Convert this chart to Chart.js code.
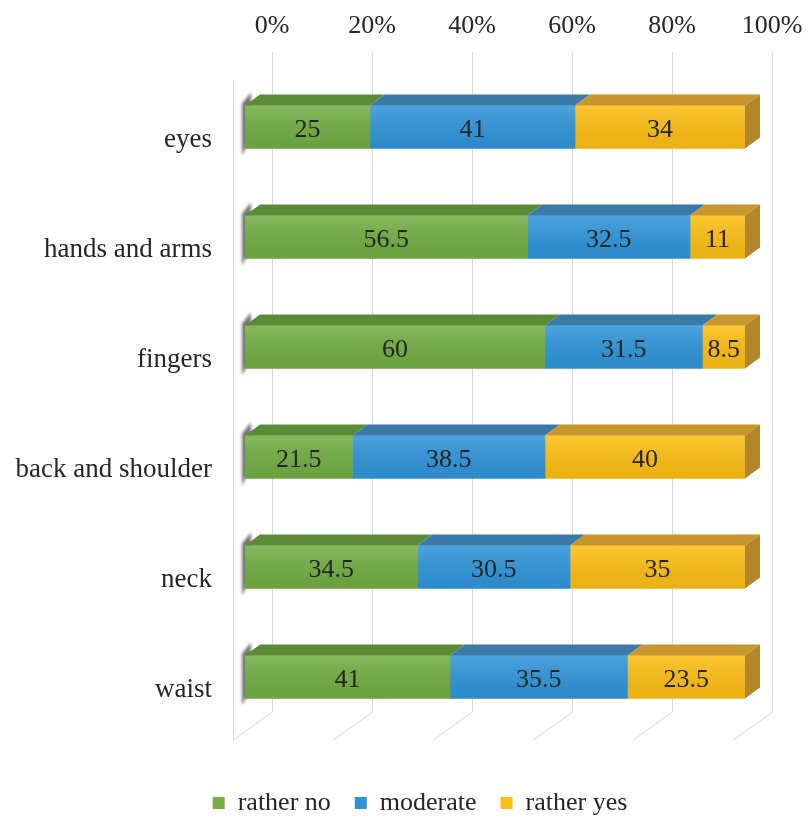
<!DOCTYPE html>
<html lang="en">
<head>
    <meta charset="UTF-8">
    <title>Discomfort by body region</title>
    <script src="https://cdn.jsdelivr.net/npm/chart.js"></script>
    <style>
        html, body {
            margin: 0;
            padding: 0;
            background: #ffffff;
        }

        .chart-box {
            position: relative;
            width: 808px;
            height: 819px;
        }
    </style>
</head>
<body>
    <div class="chart-box">
        <canvas id="regionChart"></canvas>
    </div>

    <script>
        const regions = ['eyes', 'hands and arms', 'fingers', 'back and shoulder', 'neck', 'waist'];
        const ratherNo = [25, 56.5, 60, 21.5, 34.5, 41];
        const moderate = [41, 32.5, 31.5, 38.5, 30.5, 35.5];
        const ratherYes = [34, 11, 8.5, 40, 35, 23.5];
        const percentTicks = [0, 20, 40, 60, 80, 100];

        const FONT = "'Liberation Serif', 'Times New Roman', serif";
        const TEXT = '#262626';

        // fake 3D: bar depth and wall/floor offsets (px)
        const BAR_DX = 15, BAR_DY = 11;
        const BACK_DX = 27, BACK_DY = 20;
        const FRONT_DX = 12, FRONT_DY = 8;

        function poly(ctx, pts, fill) {
            ctx.beginPath();
            ctx.moveTo(pts[0][0], pts[0][1]);
            for (let i = 1; i < pts.length; i++) ctx.lineTo(pts[i][0], pts[i][1]);
            ctx.closePath();
            ctx.fillStyle = fill;
            ctx.fill();
        }

        const box3d = {
            id: 'box3d',
            beforeDatasetsDraw(chart) {
                const { ctx, chartArea: area, scales: { x } } = chart;
                ctx.save();
                ctx.strokeStyle = '#d9d9d9';
                ctx.lineWidth = 1;
                // back wall gridlines + floor diagonals
                percentTicks.forEach(v => {
                    const px = Math.round(x.getPixelForValue(v) + BACK_DX) + 0.5;
                    ctx.beginPath();
                    ctx.moveTo(px, area.top - BACK_DY);
                    ctx.lineTo(px, area.bottom - BACK_DY);
                    ctx.lineTo(px - BACK_DX - FRONT_DX, area.bottom + FRONT_DY);
                    ctx.stroke();
                });
                // left wall edge
                const wx = Math.round(area.left - FRONT_DX) + 0.5;
                ctx.beginPath();
                ctx.moveTo(wx, area.top + FRONT_DY);
                ctx.lineTo(wx, area.bottom + FRONT_DY);
                ctx.stroke();

                // shadow of bar ends on the left wall
                chart.getDatasetMeta(0).data.forEach(bar => {
                    const p = bar.getProps(['y', 'base', 'height'], true);
                    const t = p.y - p.height / 2, b = p.y + p.height / 2;
                    ctx.save();
                    ctx.filter = 'blur(1.5px)';
                    poly(ctx, [
                        [p.base - 3, t - 2], [p.base + 6, t - BAR_DY - 2],
                        [p.base + 6, b - BAR_DY], [p.base - 3, b + 7]
                    ], 'rgba(70, 70, 70, 0.75)');
                    ctx.restore();
                });
                ctx.restore();
            },
            afterDatasetsDraw(chart) {
                const { ctx } = chart;
                const last = chart.data.datasets.length - 1;
                ctx.save();
                chart.data.datasets.forEach((ds, i) => {
                    chart.getDatasetMeta(i).data.forEach((bar, j) => {
                        const p = bar.getProps(['x', 'y', 'base', 'height'], true);
                        const l = p.base, r = p.x;
                        const t = p.y - p.height / 2, b = p.y + p.height / 2;

                        // soft shading on the front face
                        const g = ctx.createLinearGradient(0, t, 0, b);
                        g.addColorStop(0, 'rgba(255, 255, 255, 0.14)');
                        g.addColorStop(1, 'rgba(0, 0, 0, 0.07)');
                        ctx.fillStyle = g;
                        ctx.fillRect(l, t, r - l, b - t);

                        poly(ctx, [[l, t], [r, t], [r + BAR_DX, t - BAR_DY], [l + BAR_DX, t - BAR_DY]], ds.topColor);
                        if (i === last) {
                            poly(ctx, [[r, t], [r + BAR_DX, t - BAR_DY], [r + BAR_DX, b - BAR_DY], [r, b]], ds.sideColor);
                        }

                        ctx.fillStyle = TEXT;
                        ctx.font = '26px ' + FONT;
                        ctx.textAlign = 'center';
                        ctx.textBaseline = 'middle';
                        ctx.fillText(String(ds.data[j]), (l + r) / 2, p.y + 3);
                    });
                });
                ctx.restore();
            }
        };

        Chart.defaults.font.family = FONT;
        Chart.defaults.color = TEXT;

        const ctx = document.getElementById('regionChart').getContext('2d');
        const regionChart = new Chart(ctx, {
            type: 'bar',
            data: {
                labels: regions,
                datasets: [
                    {
                        label: 'rather no',
                        data: ratherNo,
                        backgroundColor: '#72ae43',
                        topColor: '#5b8b37',
                        sideColor: '#4f7a30'
                    },
                    {
                        label: 'moderate',
                        data: moderate,
                        backgroundColor: '#2f95da',
                        topColor: '#3b79a6',
                        sideColor: '#336b94'
                    },
                    {
                        label: 'rather yes',
                        data: ratherYes,
                        backgroundColor: '#fdbf12',
                        topColor: '#c7962d',
                        sideColor: '#b3862a'
                    }
                ]
            },
            options: {
                indexAxis: 'y',
                responsive: true,
                maintainAspectRatio: false,
                animation: false,
                datasets: {
                    bar: {
                        xAxisID: 'x',
                        barThickness: 43,
                        borderWidth: 0
                    }
                },
                // negative right padding only to push the legend centre right
                layout: {
                    padding: { left: 0, right: -32, top: 0, bottom: -7 }
                },
                plugins: {
                    legend: {
                        position: 'bottom',
                        labels: {
                            boxWidth: 12,
                            boxHeight: 12,
                            padding: 24,
                            color: TEXT,
                            font: { size: 26 }
                        }
                    },
                    tooltip: { enabled: false }
                },
                scales: {
                    x: {
                        position: 'top',
                        stacked: true,
                        min: 0,
                        max: 100,
                        grid: { display: false },
                        border: { display: false },
                        ticks: {
                            stepSize: 20,
                            padding: 22,
                            labelOffset: BACK_DX,
                            color: TEXT,
                            font: { size: 26 },
                            callback: v => v + '%'
                        },
                        afterFit: s => { s.height = 72; }
                    },
                    y: {
                        stacked: true,
                        grid: { display: false },
                        border: { display: false },
                        ticks: {
                            padding: 25,
                            labelOffset: 13,
                            color: TEXT,
                            font: { size: 27 }
                        },
                        afterFit: s => { s.width = 245; }
                    },
                    // empty axes used only as spacers around the plot
                    bottomGap: {
                        type: 'linear',
                        position: 'bottom',
                        grid: { display: false },
                        border: { display: false },
                        ticks: { display: false },
                        afterFit: s => { s.height = 34; }
                    },
                    rightGap: {
                        type: 'linear',
                        position: 'right',
                        grid: { display: false },
                        border: { display: false },
                        ticks: { display: false },
                        afterFit: s => { s.width = 95; }
                    }
                }
            },
            plugins: [box3d]
        });
    </script>
</body>
</html>
